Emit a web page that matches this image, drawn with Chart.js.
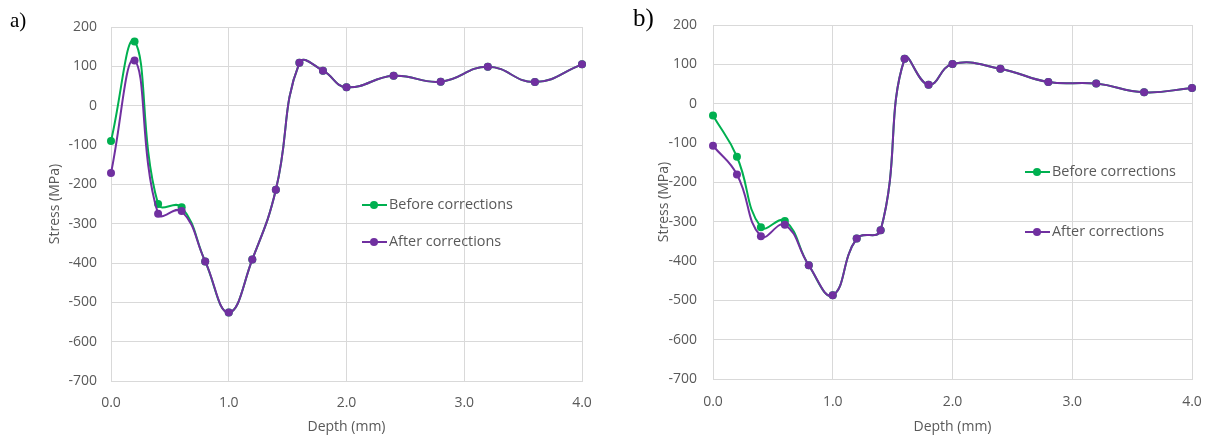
<!DOCTYPE html>
<html>
<head>
<meta charset="utf-8">
<title>Stress vs depth</title>
<script src="https://cdn.jsdelivr.net/npm/chart.js@4.4.1/dist/chart.umd.min.js"></script>
<style>
  html, body { margin: 0; padding: 0; background: #fff; }
  body { width: 1210px; height: 439px; position: relative; overflow: hidden; }
  .panel { position: absolute; top: 0; width: 605px; height: 439px; }
  .panel-label { position: absolute; font-family: "Liberation Serif", serif; color: #000; line-height: 1; }
</style>
</head>
<body>
<div class="panel" style="left:0"><canvas id="chart-a" width="605" height="439"></canvas></div>
<div class="panel" style="left:605px"><canvas id="chart-b" width="605" height="439"></canvas></div>
<div class="panel-label" style="left:10px;top:10px;font-size:21px">a)</div>
<div class="panel-label" style="left:633px;top:5px;font-size:25px">b)</div>

<script>
"use strict";

// Depth (mm) of each measurement
const depthA = [0, 0.2, 0.4, 0.6, 0.8, 1.0, 1.2, 1.4, 1.6, 1.8, 2.0, 2.4, 2.8, 3.2, 3.6, 4.0];
const depthB = [0, 0.2, 0.4, 0.6, 0.8, 1.0, 1.2, 1.4, 1.6, 1.8, 2.0, 2.4, 2.8, 3.2, 3.6, 4.0];

// Stress (MPa), panel a
const beforeA = [-90, 163, -250, -258, -396, -526, -391, -214, 109, 89, 47, 76, 61, 99, 60, 105];
const afterA = [-171, 115, -275, -268, -396, -526, -391, -214, 109, 89, 47, 76, 61, 99, 60, 105];

// Stress (MPa), panel b
const beforeB = [-30, -135, -314, -298, -411, -487, -343, -322, 114, 48, 101, 89, 55, 51, 29, 40];
const afterB = [-107, -180, -337, -308, -411, -487, -343, -322, 114, 48, 101, 89, 55, 51, 29, 40];

const seriesNames = ["Before corrections", "After corrections"];
const xTitle = "Depth (mm)";
const yTitle = "Stress (MPa)";

(function () {

  const textColor = "#595959";
  const gridColor = "#d9d9d9";
  const fontFamily = "'Open Sans', 'Liberation Sans', sans-serif";
  const colors = ["#00b050", "#7030a0"];

  // draws the legend inside the plot, the way the spreadsheet put it
  const insideLegend = {
    id: "insideLegend",
    afterDraw(chart, args, opts) {
      const ctx = chart.ctx;
      const area = chart.chartArea;
      chart.data.datasets.forEach(function (ds, i) {
        const x = area.left + opts.left;
        const y = area.top + opts.rows[i];
        ctx.save();
        ctx.strokeStyle = ds.borderColor;
        ctx.lineWidth = 2;
        ctx.beginPath();
        ctx.moveTo(x, y);
        ctx.lineTo(x + 25, y);
        ctx.stroke();
        ctx.fillStyle = ds.borderColor;
        ctx.beginPath();
        ctx.arc(x + 12, y, 4, 0, Math.PI * 2);
        ctx.fill();
        ctx.font = "14.4px " + fontFamily;
        ctx.fillStyle = textColor;
        ctx.textBaseline = "middle";
        ctx.fillText(ds.label, x + 27, y);
        ctx.restore();
      });
    }
  };

  function toPoints(xs, ys) {
    return xs.map(function (x, i) { return {x: x, y: ys[i]}; });
  }

  function dataset(label, color, points, order) {
    return {
      label: label,
      data: points,
      borderColor: color,
      backgroundColor: color,
      borderWidth: 2,
      pointRadius: 4,
      pointBorderWidth: 0,
      pointBackgroundColor: color,
      tension: 0.45,
      clip: false,
      order: order
    };
  }

  function makeChart(canvas, depth, before, after, layout) {
    const font = {family: fontFamily, size: 14};
    const config = {
      type: "line",
      data: {
        datasets: [
          dataset(seriesNames[0], colors[0], toPoints(depth, before), 2),
          dataset(seriesNames[1], colors[1], toPoints(depth, after), 1)
        ]
      },
      options: {
        responsive: false,
        animation: false,
        devicePixelRatio: 1,
        layout: {padding: layout.padding},
        plugins: {
          legend: {display: false},
          tooltip: {enabled: false},
          insideLegend: layout.legend
        },
        scales: {
          x: {
            type: "linear",
            min: 0,
            max: 4,
            ticks: {
              stepSize: 1,
              color: textColor,
              font: font,
              padding: layout.xTickPad,
              callback: function (v) { return v.toFixed(1); }
            },
            grid: {color: gridColor, drawTicks: false},
            border: {color: gridColor},
            title: {
              display: true, text: xTitle, color: textColor, font: font,
              padding: {top: 0, bottom: 4}
            },
            afterFit: function (scale) {
              scale.height = layout.xHeight;
              // the layout padding already leaves room for the end labels
              scale.paddingLeft = 0;
              scale.paddingRight = 0;
            }
          },
          y: {
            min: -700,
            max: 200,
            ticks: {stepSize: 100, color: textColor, font: font, padding: layout.yTickPad},
            grid: {color: gridColor, drawTicks: false},
            border: {color: gridColor},
            title: {
              display: true, text: yTitle, color: textColor, font: font,
              padding: {top: layout.yTitlePad, bottom: 0}
            },
            afterFit: function (scale) {
              scale.width = layout.yWidth;
              scale.paddingTop = 0;
              scale.paddingBottom = 0;
            }
          }
        }
      },
      plugins: [insideLegend]
    };
    return new Chart(canvas.getContext("2d"), config);
  }

  makeChart(document.getElementById("chart-a"), depthA, beforeA, afterA, {
    padding: {left: 0, top: 27, right: 23, bottom: 0},
    yWidth: 111,
    xHeight: 58,
    xTickPad: 14,
    yTickPad: 14,
    yTitlePad: 47,
    legend: {left: 251, rows: [178, 215]}
  });

  makeChart(document.getElementById("chart-b"), depthB, beforeB, afterB, {
    padding: {left: 0, top: 25, right: 18, bottom: 0},
    yWidth: 108,
    xHeight: 60,
    xTickPad: 15,
    yTickPad: 16,
    yTitlePad: 51,
    legend: {left: 312, rows: [147, 207]}
  });

} ());
</script>
</body>
</html>
